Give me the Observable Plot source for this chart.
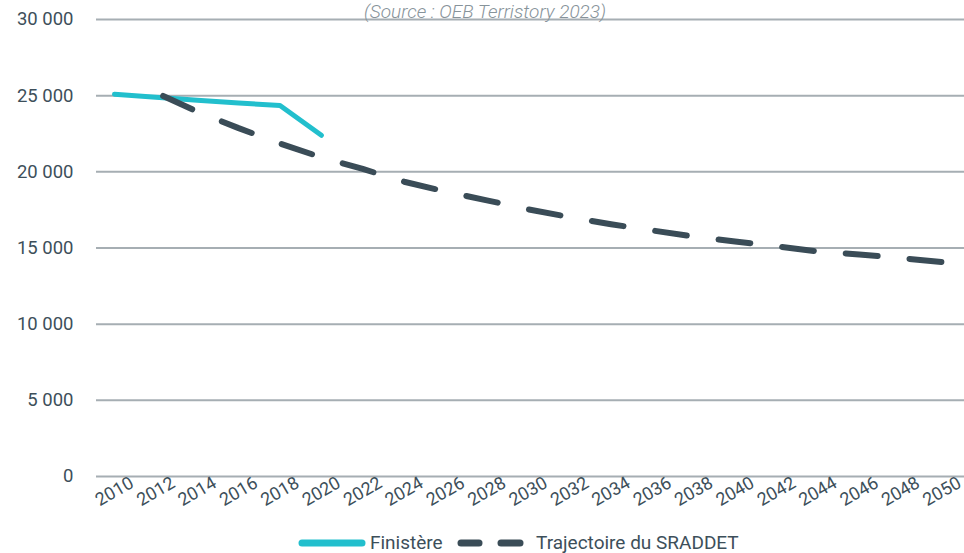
<!DOCTYPE html>
<html>
<head>
<meta charset="utf-8">
<script src="https://cdn.jsdelivr.net/npm/d3@7"></script>
<script src="https://cdn.jsdelivr.net/npm/@observablehq/plot@0.6"></script>
<style>
  html, body { margin: 0; padding: 0; background: #fff; }
  #wrap { position: relative; width: 964px; height: 553px; overflow: hidden; font-family: Roboto, "Open Sans", sans-serif; color: #3d4f5a; }
  #src { position: absolute; top: 2px; left: 6px; width: 958px; text-align: center; font-size: 19px; font-style: italic; font-weight: 300; color: #87939a; white-space: nowrap; line-height: 19px; }
  #chart { position: absolute; top: 0; left: 0; }
  #legend { position: absolute; top: 531px; left: 0; width: 964px; height: 22px; font-size: 19px; }
  #legend .item { position: absolute; top: 0; height: 22px; line-height: 24px; white-space: nowrap; }
</style>
</head>
<body>
<div id="wrap">
  <div id="chart"></div>
  <div id="src">(Source : OEB Terristory 2023)</div>
  <div id="legend"></div>
</div>
<script>
// ---- Data ----
const seriesNames = ["Finistère", "Trajectoire du SRADDET"];
const finistereYears = [2010, 2012, 2014, 2016, 2018, 2020];
const finistereValues = [25100, 24900, 24700, 24520, 24350, 22400];
const sraddetYears = [2012, 2014, 2016, 2018, 2020, 2022, 2024, 2026, 2028, 2030, 2032, 2034, 2036, 2038, 2040, 2042, 2044, 2046, 2048, 2050];
const sraddetValues = [25200, 23950, 22870, 21860, 20950, 20190, 19350, 18710, 18130, 17540, 17030, 16560, 16150, 15750, 15430, 15110, 14770, 14570, 14340, 14080];
const xTickLabels = [2010, 2012, 2014, 2016, 2018, 2020, 2022, 2024, 2026, 2028, 2030, 2032, 2034, 2036, 2038, 2040, 2042, 2044, 2046, 2048, 2050];
const yTickValues = [0, 5000, 10000, 15000, 20000, 25000, 30000];

const colFin = "#22bfcd";
const colSra = "#3a4c57";
const textCol = "#3d4f5a";
const gridCol = "#a6aeb3";

const finData = finistereYears.map((y, i) => ({year: y, value: finistereValues[i]}));
const sraData = sraddetYears.map((y, i) => ({year: y, value: sraddetValues[i]}));

const pxPerYear = 20.69;
const fmt = d => d3.format(",")(d).replace(/,/g, " ");

const chart = Plot.plot({
  width: 964,
  height: 527,
  marginLeft: 96,
  marginRight: 0,
  marginTop: 19,
  marginBottom: 51,
  style: {fontFamily: "Roboto, 'Open Sans', sans-serif", color: textCol, background: "transparent"},
  x: {domain: [2010 - 18 / pxPerYear, 2050 + 22.5 / pxPerYear], axis: null},
  y: {domain: [0, 30000]},
  marks: [
    Plot.gridY(yTickValues, {stroke: gridCol, strokeWidth: 2, strokeOpacity: 1}),
    Plot.axisY(yTickValues, {tickSize: 0, tickPadding: 23, tickFormat: fmt, fontSize: 18.5, fill: textCol, label: null}),
    Plot.text(xTickLabels, {x: d => d, frameAnchor: "bottom", dy: 15, rotate: -30, text: d => String(d), fontSize: 18, fill: textCol, textAnchor: "middle", lineAnchor: "middle"}),
    Plot.line(finData, {x: "year", y: "value", stroke: colFin, strokeWidth: 5, strokeLinecap: "round", strokeLinejoin: "round"}),
    Plot.line(sraData, {x: "year", y: "value", stroke: colSra, strokeWidth: 6, strokeDasharray: "32,32", strokeDashoffset: 56, strokeLinecap: "round", strokeLinejoin: "round"})
  ]
});
document.getElementById("chart").appendChild(chart);

// ---- Legend ----
const legend = document.getElementById("legend");
legend.innerHTML =
  `<svg width="964" height="22" style="position:absolute;left:0;top:0">
     <line x1="302" x2="362" y1="12" y2="12" stroke="${colFin}" stroke-width="7" stroke-linecap="round"/>
     <line x1="461" x2="479" y1="12" y2="12" stroke="${colSra}" stroke-width="7" stroke-linecap="round"/>
     <line x1="501" x2="520" y1="12" y2="12" stroke="${colSra}" stroke-width="7" stroke-linecap="round"/>
   </svg>
   <span class="item" style="left:370px">${seriesNames[0]}</span>
   <span class="item" style="left:536px">${seriesNames[1]}</span>`;
</script>
</body>
</html>
